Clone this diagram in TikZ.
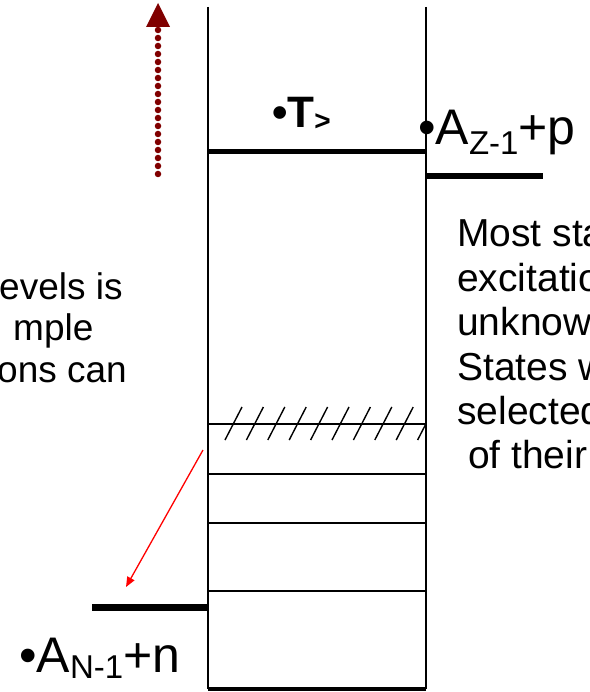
\documentclass[tikz,border=0pt]{standalone}
\usepackage{fontspec}
\setmainfont{Liberation Sans}
\usepackage{xcolor}
\definecolor{climbRed}{RGB}{128,0,0}
\usetikzlibrary{arrows.meta}
\tikzset{
  wall/.style={line width=1.6pt},
  level/.style={line width=#1},
  level/.default=2.4pt,
  hatch/.style={line width=1.4pt},
  lbl/.style={inner sep=0pt,anchor=base west,font=\fontsize{50}{60}\selectfont},
  txt/.style={inner sep=0pt,anchor=base west,font=\fontsize{39}{46}\selectfont},
  cut/.style={inner sep=0pt,anchor=base west,font=\fontsize{37}{44}\selectfont},
  decay/.style={-{Triangle[length=10pt,width=8pt]},draw=red,line width=1.3pt},
  climb/.style={-{Triangle[length=24pt,width=24pt,line width=0pt]},draw=climbRed,
    line width=6.5pt,line cap=round,dash pattern=on 0pt off 8pt}
}

\begin{document}
\begin{tikzpicture}[x=1pt,y=-1pt]
  \clip (0,0) rectangle (589,692);
  % the box of levels
  \coordinate (tl) at (208,7);
  \coordinate (bl) at (208,689);
  \coordinate (tr) at (426,7);
  \coordinate (br) at (426,689);
  \draw[wall] (tl) -- (bl);
  \draw[wall] (tr) -- (br);
  \draw[level=4pt] (bl) -- (br);
  \draw[level=5pt] (208,152) -- (426,152);
  \draw[level=6pt] (426,176) -- (543,176);
  \draw[level=7pt] (92,607) -- (208,607);
  \draw[level] (208,424) -- (426,424);
  \foreach \y in {474,523,591}
    \draw[level] (208,\y) -- (426,\y);
  \begin{scope}
    \clip (208,400) rectangle (426,450);
    \foreach \i in {0,...,9}
      \draw[hatch] (225+21.4*\i,440) -- ++(17,-33);
  \end{scope}

  \node[lbl,font=\bfseries\fontsize{44}{52}\selectfont] (tee) at (272,128)
    {•T\raisebox{-3pt}{\fontsize{28}{30}\selectfont >}};
  \node[lbl] (azp) at (418,145)
    {•A\raisebox{-10pt}{\fontsize{33}{36}\selectfont Z-1}+p};
  \node[lbl] (anp) at (19,672)
    {•A\raisebox{-6pt}{\fontsize{33}{36}\selectfont N-1}+n};

  \node[cut] (l1) at (-1,299) {evels is};
  \node[cut] (l2) at (13,340) {mple};
  \node[cut] (l3) at (-3,382) {ons can};

  \node[txt] (r1) at (457,247) {Most sta};
  \node[txt] (r2) at (457,291) {excitatio};
  \node[txt] (r3) at (457,335) {unknow};
  \node[txt] (r4) at (457,380) {States w};
  \node[txt] (r5) at (457,424) {selected};
  \node[txt] (r6) at (457,468) {\ of their};

  \coordinate (dS) at (203,450);
  \coordinate (dE) at (126,587);
  \draw[decay] (dS) -- (dE);
  \coordinate (cS) at (158,174);
  \coordinate (cE) at (158,3);
  \draw[climb] (cS) -- (cE);
\end{tikzpicture}
\end{document}
